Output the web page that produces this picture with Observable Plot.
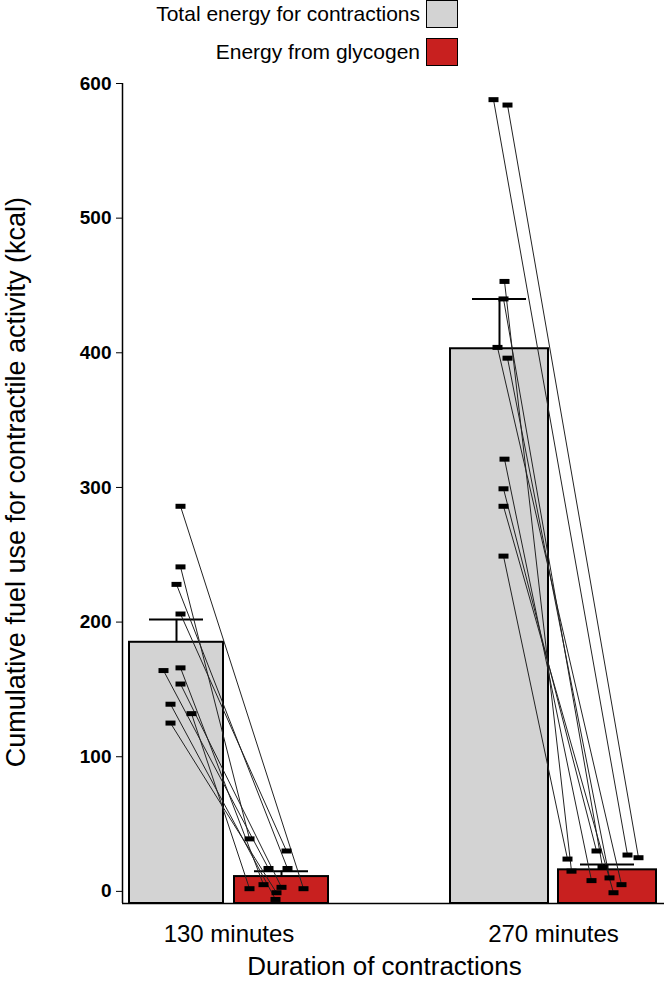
<!DOCTYPE html>
<html><head><meta charset="utf-8">
<script src="https://cdn.jsdelivr.net/npm/d3@7"></script>
<script src="https://cdn.jsdelivr.net/npm/@observablehq/plot@0.6"></script>
<style>
body{margin:0;background:#fff;font-family:Arial,"Liberation Sans",sans-serif;}
#wrap{position:relative;width:664px;height:984px;}
.leg{position:absolute;right:206px;font-size:21px;display:flex;align-items:center;gap:6px;z-index:2;}
.sw{width:32px;height:28px;border:1.5px solid #000;box-sizing:border-box;}
</style></head><body>
<div id="wrap">
<div class="leg" style="top:0px">Total energy for contractions <div class="sw" style="background:#d3d3d3"></div></div>
<div class="leg" style="top:38px">Energy from glycogen <div class="sw" style="background:#c8201f"></div></div>
<div id="chart"></div>
</div>
<script>
// group centres on the x scale (scale units)
const groups = ["130 minutes", "270 minutes"];
const totalCenter = [176, 499];
const glyCenter = [281, 607];
const barHalf = [47, 49];
const totalMean = [185, 403];
const totalErr = [202, 440];
const glyMean = [11, 16];
const glyErr = [15, 20];
// individual subjects
const total130 = [286, 241, 228, 206, 166, 164, 154, 139, 132, 125];
const total130dx = [4, 4, 0, 4, 4, -13, 4, -6, 15, -6];
const gly130 = [2, 39, 17, 30, 5, 17, 3, -6, 2, -1];
const gly130dx = [22, -32, 6, 5, -18, -13, 0, -6, -32, -5];
const total270 = [588, 584, 453, 440, 404, 396, 321, 299, 286, 249];
const total270dx = [-6, 8, 5, 4, -2, 8, 5, 4, 4, 4];
const gly270 = [27, 25, 15, 18, 5, 10, 8, 30, -1, 24];
const gly270dx = [20, 31, -36, -5, 14, 2, -16, -11, 6, -40];

const rows = [];
[[total130,total130dx,gly130,gly130dx,0],[total270,total270dx,gly270,gly270dx,1]].forEach(([t,tdx,g,gdx,i])=>{
  t.forEach((v,k)=>rows.push({x1:totalCenter[i]+tdx[k], y1:v, x2:glyCenter[i]+gdx[k], y2:g[k]}));
});
const bars = [];
groups.forEach((gname,i)=>{
  bars.push({x1:totalCenter[i]-barHalf[i], x2:totalCenter[i]+barHalf[i], y:totalMean[i], e:totalErr[i], c:totalCenter[i], fill:"#d3d3d3"});
  bars.push({x1:glyCenter[i]-barHalf[i], x2:glyCenter[i]+barHalf[i], y:glyMean[i], e:glyErr[i], c:glyCenter[i], fill:"#c8201f"});
});
const labels = groups.map((g,i)=>({x:(totalCenter[i]+glyCenter[i])/2, label:g}));
const pts = rows.flatMap(r=>[{x:r.x1,y:r.y1},{x:r.x2,y:r.y2}]);
const rectSym = {draw(ctx,size){ctx.rect(-5,-2.5,10,5);}};

const chart = Plot.plot({
  width:664, height:984, marginLeft:122, marginRight:0, marginTop:83, marginBottom:81,
  style:{fontFamily:"Arial, 'Liberation Sans', sans-serif", color:"#000"},
  x:{domain:[122,664], axis:null},
  y:{domain:[-9,600], label:null},
  marks:[
    Plot.rect(bars,{x1:"x1",x2:"x2",y1:-9,y2:"y",fill:"fill",stroke:"#000",strokeWidth:2}),
    Plot.ruleX(bars,{x:"c",y1:"y",y2:"e",stroke:"#000",strokeWidth:2}),
    Plot.ruleY(bars,{y:"e",x1:d=>d.c-27,x2:d=>d.c+27,stroke:"#000",strokeWidth:2}),
    Plot.link(rows,{x1:"x1",y1:"y1",x2:"x2",y2:"y2",stroke:"#222",strokeWidth:1}),
    Plot.dot(pts,{x:"x",y:"y",symbol:rectSym,fill:"#000",stroke:null}),
    Plot.axisY({ticks:[0,100,200,300,400,500,600],fontWeight:"bold",fontSize:19,tickSize:6,tickPadding:5,label:null}),
    Plot.ruleX([122],{stroke:"#000",strokeWidth:1.5}),
    Plot.ruleY([-9],{stroke:"#000",strokeWidth:1.5}),
    Plot.text(labels,{x:"x",y:-9,text:"label",dy:31,fontSize:24}),
    Plot.text(["Duration of contractions"],{x:384,y:-9,dy:63,fontSize:26}),
    Plot.text(["Cumulative fuel use for contractile activity (kcal)"],{x:122,y:304,dx:-106,rotate:-90,fontSize:27})
  ]
});
document.getElementById("chart").appendChild(chart);
chart.style.position="absolute";chart.style.top="0";chart.style.left="0";
</script></body></html>
